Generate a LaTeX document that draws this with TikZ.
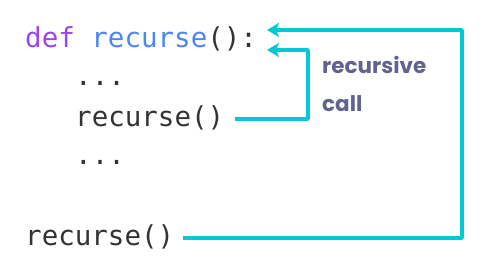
\documentclass[tikz,border=0pt]{standalone}
\usepackage{fontspec}
\setmonofont{DejaVu Sans Mono}
\newfontfamily\labelfont{Poppins}
\usetikzlibrary{arrows.meta}
\definecolor{kwpurple}{HTML}{9B45F0}
\definecolor{fnblue}{HTML}{4A86F5}
\definecolor{codegray}{HTML}{333333}
\definecolor{linecyan}{HTML}{00C8D6}
\definecolor{labelslate}{HTML}{62618F}
\tikzset{
  code/.style={anchor=base west, inner sep=0pt, font=\ttfamily\fontsize{27.5}{30}\selectfont, text=codegray},
  calllabel/.style={anchor=base west, inner sep=0pt, font=\labelfont\bfseries\fontsize{21.5}{24}\selectfont, text=labelslate},
  callline/.style={draw=linecyan, line width=3.8pt, line join=round, -{Stealth[length=12pt,width=14pt,inset=3pt]}}
}
\begin{document}
\begin{tikzpicture}[x=1pt,y=1pt]
\useasboundingbox (0,0) rectangle (488,272);
\node[code] (defline) at (25,224) {\textcolor{kwpurple}{def} \textcolor{fnblue}{recurse}():};
\node[code] (dots1) at (75,186) {...};
\node[code] (inner) at (75,145) {recurse()};
\node[code] (dots2) at (75,107) {...};
\node[code] (outer) at (25,26) {recurse()};
\node[calllabel] (lab1) at (322,198) {recursive};
\node[calllabel] (lab2) at (322,160) {call};
\coordinate (tipA) at (267,242);
\coordinate (tipB) at (267,222);
\coordinate (innerstart) at (235,153);
\coordinate (outerstart) at (183,34);
\draw[callline] (innerstart) -- (308,153) -- (308,222) -- (tipB);
\draw[callline] (outerstart) -- (462,34) -- (462,242) -- (tipA);
\end{tikzpicture}
\end{document}
